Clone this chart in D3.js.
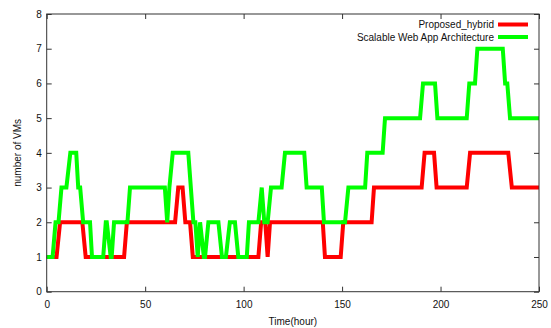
<!DOCTYPE html>
<html>
<head>
<meta charset="utf-8">
<script src="https://cdn.jsdelivr.net/npm/d3@7"></script>
<style>
  body { margin: 0; background: #fff; }
  text { font-family: "Liberation Sans", Arial, sans-serif; font-size: 10px; fill: #111; }
</style>
</head>
<body>
<svg id="chart" width="551" height="328"></svg>
<script>
// series as [hour, number of VMs] vertices
var hybrid = [
  [0,1],[5,1],[6.8,2],[18.1,2],[19.8,1],[39.3,1],[40.7,2],[65.2,2],[66.8,3],[69,3],
  [70.4,2],[72.8,2],[74.2,1],[107.5,1],[108.9,2],[111,2],[112.2,1],[113.4,2],[140.2,2],
  [141.3,1],[149.3,1],[150.6,2],[165,2],[166.2,3],[190.4,3],[191.9,4],[196.7,4],[198,3],
  [213.3,3],[215,4],[234.4,4],[236.2,3],[250,3]
];
var scalable = [
  [0,1],[3,1],[4.5,2],[6,2],[7.5,3],[10,3],[12,4],[15,4],[16,3],[17,3],[18.5,2],[22,2],
  [23,1],[28.7,1],[30,2],[30.5,2],[32.5,1],[33,1],[34.2,2],[41,2],[42.3,3],[60,3],
  [61.2,2],[62.3,3],[64,4],[71.9,4],[74.5,2],[75.5,2],[76.7,1],[77.9,2],[79.8,1],[80.4,1],
  [82.1,2],[87.2,2],[89,1],[91,1],[93,2],[95.6,2],[97.3,1],[101.6,1],[102.7,2],[107.5,2],
  [109.2,3],[110.5,2],[112.2,2],[113.9,3],[119.3,3],[121,4],[130.8,4],[132,3],[139.7,3],
  [140.8,2],[151.5,2],[153.2,3],[161.7,3],[162.8,4],[170.6,4],[171.8,5],[189.6,5],
  [191.1,6],[197.2,6],[198.4,5],[213.3,5],[214.6,6],[217.5,6],[218.7,7],[231.6,7],
  [232.8,6],[233.9,6],[235.3,5],[250,5]
];
var seriesNames = ["Proposed_hybrid", "Scalable Web App Architecture"];
var seriesColors = ["#ff0000", "#00ff00"];
var xTicks = [0, 50, 100, 150, 200, 250];
var yTicks = [0, 1, 2, 3, 4, 5, 6, 7, 8];

var svg = d3.select("#chart");
var plotLeft = 46.7, plotRight = 539, plotTop = 14, plotBottom = 291.7;

var x = d3.scaleLinear().domain([0, 250]).range([plotLeft, plotRight]);
var y = d3.scaleLinear().domain([0, 8]).range([plotBottom, plotTop]);

// gnuplot style: ticks point inwards and are mirrored on all sides
function styleAxis(g) {
  g.select(".domain").remove();
  g.selectAll(".tick line").attr("stroke", "#333");
  g.selectAll(".tick text").attr("fill", "#111").style("font-size", "10px");
}

svg.append("g").attr("transform", "translate(0," + plotBottom + ")")
  .call(d3.axisBottom(x).tickValues(xTicks).tickSize(-5).tickPadding(9))
  .call(styleAxis);
svg.append("g").attr("transform", "translate(0," + plotTop + ")")
  .call(d3.axisTop(x).tickValues(xTicks).tickSize(-5).tickFormat(""))
  .call(styleAxis);
svg.append("g").attr("transform", "translate(" + plotLeft + ",0)")
  .call(d3.axisLeft(y).tickValues(yTicks).tickSize(-5).tickPadding(5))
  .call(styleAxis);
svg.append("g").attr("transform", "translate(" + plotRight + ",0)")
  .call(d3.axisRight(y).tickValues(yTicks).tickSize(-5).tickFormat(""))
  .call(styleAxis);

var line = d3.line()
  .x(function(d) { return x(d[0]); })
  .y(function(d) { return y(d[1]); });

[hybrid, scalable].forEach(function(data, i) {
  svg.append("path")
    .datum(data)
    .attr("d", line)
    .attr("fill", "none")
    .attr("stroke", seriesColors[i])
    .attr("stroke-width", 4)
    .attr("stroke-linejoin", "miter");
});

// frame on top of the lines
svg.append("rect")
  .attr("x", plotLeft).attr("y", plotTop)
  .attr("width", plotRight - plotLeft).attr("height", plotBottom - plotTop)
  .attr("fill", "none").attr("stroke", "#333").attr("stroke-width", 1);

// legend
seriesNames.forEach(function(name, i) {
  var ly = 24.5 + i * 12.5;
  svg.append("text")
    .attr("x", 494).attr("y", ly + 3.5)
    .attr("text-anchor", "end")
    .text(name);
  svg.append("line")
    .attr("x1", 498).attr("x2", 528)
    .attr("y1", ly).attr("y2", ly)
    .attr("stroke", seriesColors[i]).attr("stroke-width", 4);
});

svg.append("text")
  .attr("x", (plotLeft + plotRight) / 2).attr("y", 325)
  .attr("text-anchor", "middle")
  .text("Time(hour)");

svg.append("text")
  .attr("transform", "translate(21," + (plotTop + plotBottom) / 2 + ") rotate(-90)")
  .attr("text-anchor", "middle")
  .text("number of VMs");
</script>
</body>
</html>
